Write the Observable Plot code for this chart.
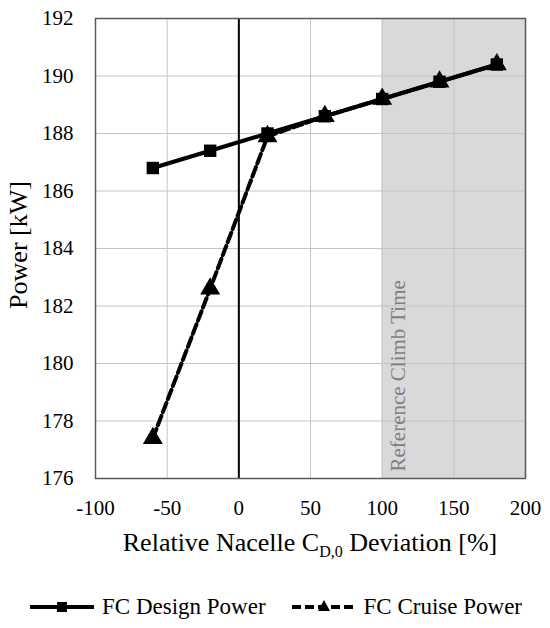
<!DOCTYPE html>
<html>
<head>
<meta charset="utf-8">
<script src="https://cdn.jsdelivr.net/npm/d3@7"></script>
<script src="https://cdn.jsdelivr.net/npm/@observablehq/plot@0.6"></script>
<style>
  html, body { margin: 0; padding: 0; background: white; }
  #wrap { width: 550px; position: relative; font-family: "Liberation Serif", "Times New Roman", serif; }
  #legend { height: 48px; display: flex; align-items: center; font-size: 23px; color: black; padding-left: 30px; padding-top: 6px; box-sizing: border-box; }
  .item { display: flex; align-items: center; }
  .item svg { display: block; }
</style>
</head>
<body>
<div id="wrap">
  <div id="chart"></div>
  <div id="legend"></div>
</div>
<script>
// Data
const deviation = [-60, -20, 20, 60, 100, 140, 180];
const designPower = [186.8, 187.4, 188.0, 188.6, 189.2, 189.8, 190.4];
const cruisePower = [177.4, 182.6, 187.9, 188.6, 189.2, 189.8, 190.4];
const xTicks = [-100, -50, 0, 50, 100, 150, 200];
const yTicks = [176, 178, 180, 182, 184, 186, 188, 190, 192];
const bandRange = [100, 200];
const bandText = "Reference Climb Time";
const seriesNames = ["FC Design Power", "FC Cruise Power"];

const design = deviation.map((d, i) => ({x: d, y: designPower[i]}));
const cruise = deviation.map((d, i) => ({x: d, y: cruisePower[i]}));
const band = [{x1: bandRange[0], x2: bandRange[1]}];

const plot = Plot.plot({
  width: 550,
  height: 580,
  marginTop: 18,
  marginLeft: 95,
  marginRight: 25,
  marginBottom: 102,
  style: {fontFamily: "'Liberation Serif', serif", fontSize: "21px", color: "black", background: "white", overflow: "visible"},
  x: {domain: [xTicks[0], xTicks[xTicks.length - 1]], ticks: xTicks, tickFormat: d => String(d), tickSize: 0, tickPadding: 22, label: null},
  y: {domain: [yTicks[0], yTicks[yTicks.length - 1]], ticks: yTicks, tickFormat: d => String(d), tickSize: 0, tickPadding: 22, label: null},
  marks: [
    Plot.rect(band, {x1: "x1", x2: "x2", fill: "#d9d9d9"}),
    Plot.gridX(xTicks, {stroke: "#c4c4c4", strokeOpacity: 1, strokeWidth: 1}),
    Plot.gridY(yTicks, {stroke: "#c4c4c4", strokeOpacity: 1, strokeWidth: 1}),
    Plot.ruleX([0], {stroke: "black", strokeWidth: 2}),
    Plot.text([{x: bandRange[0], y: yTicks[0], t: bandText}], {x: "x", y: "y", text: "t", rotate: -90, textAnchor: "start", dx: 16, dy: -7, fill: "#7f7f7f", fontSize: 21}),
    Plot.line(design, {x: "x", y: "y", stroke: "black", strokeWidth: 4}),
    Plot.dot(design, {x: "x", y: "y", symbol: "square", r: 7, fill: "black", stroke: "none"}),
    Plot.line(cruise, {x: "x", y: "y", stroke: "black", strokeWidth: 4, strokeDasharray: "10,4"}),
    Plot.dot(cruise, {x: "x", y: "y", symbol: "triangle", r: 7.4, fill: "black", stroke: "none"}),
    Plot.frame({stroke: "#595959", strokeWidth: 1.5})
  ]
});

const svg = d3.select(plot);
const xs = plot.scale("x"), ys = plot.scale("y");
const xMid = (xs.range[0] + xs.range[1]) / 2;
const yMid = (ys.range[0] + ys.range[1]) / 2;

// x-axis title with subscript
const xt = svg.append("text")
  .attr("x", xMid).attr("y", 551)
  .attr("text-anchor", "middle")
  .attr("font-family", "'Liberation Serif', serif")
  .attr("font-size", 26)
  .attr("fill", "black");
xt.append("tspan").text("Relative Nacelle C");
xt.append("tspan").attr("font-size", 16).attr("dy", 6).text("D,0");
xt.append("tspan").attr("dy", -6).text(" Deviation [%]");

// y-axis title
svg.append("text")
  .attr("transform", `translate(27,${yMid - 3}) rotate(-90)`)
  .attr("text-anchor", "middle")
  .attr("font-family", "'Liberation Serif', serif")
  .attr("font-size", 26)
  .attr("fill", "black")
  .text("Power [kW]");

document.getElementById("chart").appendChild(plot);

// legend
const legend = d3.select("#legend");
function addItem(name, dashed, symbol, gapBefore) {
  const it = legend.append("div").attr("class", "item").style("margin-left", gapBefore + "px");
  const s = it.append("svg").attr("width", 64).attr("height", 20);
  s.append("line").attr("x1", 0).attr("x2", 64).attr("y1", 10).attr("y2", 10)
    .attr("stroke", "black").attr("stroke-width", 4)
    .attr("stroke-dasharray", dashed ? "9,4" : null);
  if (symbol === "square") {
    s.append("rect").attr("x", 27).attr("y", 5).attr("width", 10).attr("height", 10).attr("fill", "black");
  } else {
    s.append("path").attr("d", "M32,3 L38,14 L26,14 Z").attr("fill", "black");
  }
  it.append("span").style("margin-left", "8px").text(name);
}
addItem(seriesNames[0], false, "square", 0);
addItem(seriesNames[1], true, "triangle", 26);
</script>
</body>
</html>
